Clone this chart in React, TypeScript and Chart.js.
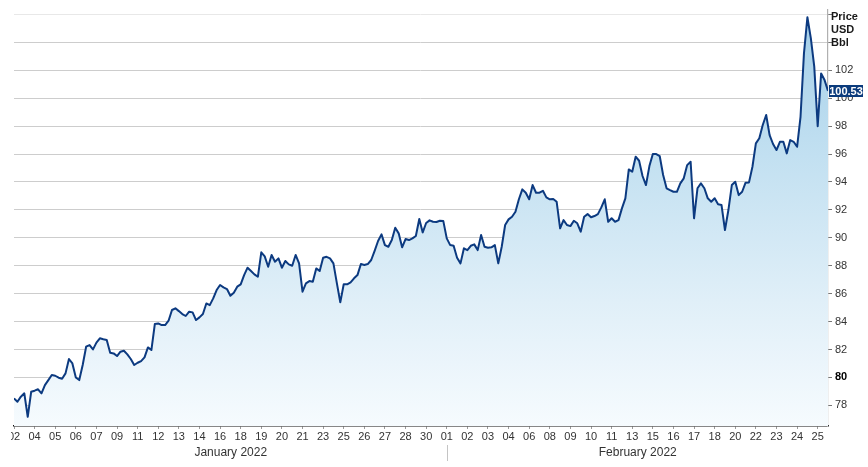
import React, { useEffect, useRef } from "react";
import { Chart, registerables } from "chart.js";

Chart.register(...registerables);

// Day tick labels (evenly spaced along the trading-time axis)
const dayLabels = [
  "02", "04", "05", "06", "07", "09", "11", "12", "13", "14", "16", "18", "19", "20", "21",
  "23", "25", "26", "27", "28", "30",
  "01", "02", "03", "04", "06", "08", "09", "10", "11", "13", "15", "16", "17", "18", "20",
  "22", "23", "24", "25",
];
const months = ["January 2022", "February 2022"];
const febStartLabel = 21;
const pointsPerLabel = 6;

const yTickValues = [78, 80, 82, 84, 86, 88, 90, 92, 94, 96, 98, 100, 102, 104, 106];
const yHiddenTicks = [104, 106];
const yBoldTick = 80;
const yMin = 76.52;
const yMax = 106.32;

const unitLines = ["Price", "USD", "Bbl"];
const lastLabel = "100.53";

// Brent price (one value per ~1/6 of a label step)
const prices = [
  78.5, 78.26, 78.62, 78.86, 77.18, 78.97, 79.05, 79.15, 78.86, 79.45,
  79.81, 80.17, 80.12, 79.98, 79.91, 80.29, 81.32, 81.0, 80.0, 79.81,
  80.89, 82.2, 82.32, 82.01, 82.49, 82.8, 82.73, 82.68, 81.77, 81.72,
  81.53, 81.84, 81.91, 81.65, 81.32, 80.89, 81.05, 81.17, 81.44, 82.15,
  81.96, 83.82, 83.87, 83.75, 83.75, 84.06, 84.83, 84.95, 84.75, 84.54,
  84.4, 84.71, 84.66, 84.11, 84.3, 84.54, 85.3, 85.18, 85.66, 86.26,
  86.62, 86.45, 86.33, 85.85, 86.07, 86.5, 86.67, 87.33, 87.86, 87.62,
  87.38, 87.21, 88.96, 88.67, 87.93, 88.77, 88.29, 88.53, 87.86, 88.34,
  88.1, 88.0, 88.77, 88.17, 86.14, 86.74, 86.9, 86.85, 87.81, 87.62,
  88.57, 88.64, 88.53, 88.17, 86.76, 85.38, 86.67, 86.67, 86.81, 87.1,
  87.33, 88.12, 88.05, 88.12, 88.41, 89.07, 89.77, 90.25, 89.48, 89.36,
  89.84, 90.72, 90.32, 89.32, 89.91, 89.84, 89.96, 90.13, 91.35, 90.39,
  91.06, 91.25, 91.15, 91.13, 91.22, 91.2, 89.96, 89.48, 89.43, 88.57,
  88.17, 89.25, 89.12, 89.43, 89.53, 89.12, 90.2, 89.36, 89.29, 89.32,
  89.48, 88.17, 89.36, 90.92, 91.32, 91.51, 91.87, 92.76, 93.47, 93.23,
  92.76, 93.78, 93.23, 93.23, 93.37, 92.9, 92.76, 92.78, 92.58, 90.68,
  91.27, 90.92, 90.84, 91.22, 91.04, 90.44, 91.51, 91.7, 91.47, 91.56,
  91.7, 92.18, 92.76, 91.15, 91.4, 91.15, 91.27, 92.11, 92.83, 94.9,
  94.73, 95.81, 95.52, 94.43, 93.78, 95.14, 96.0, 96.0, 95.86, 94.5,
  93.55, 93.42, 93.3, 93.3, 93.9, 94.26, 95.21, 95.45, 91.4, 93.55,
  93.9, 93.55, 92.83, 92.59, 92.83, 92.4, 92.35, 90.56, 91.99, 93.78,
  94.02, 93.06, 93.3, 93.95, 93.97, 95.09, 96.77, 97.13, 98.08, 98.8,
  97.36, 96.72, 96.29, 96.88, 96.88, 96.05, 97.0, 96.88, 96.52, 98.67,
  103.21, 105.8, 104.3, 102.26, 98.0, 101.78, 101.3, 100.53,
];

const FONT = "'Liberation Sans', Arial, sans-serif";

export default function App() {
  const canvasRef = useRef<HTMLCanvasElement>(null);

  useEffect(() => {
    const canvas = canvasRef.current;
    if (!canvas) return;

    const overlay = {
      id: "overlay",
      afterDraw(chart: any) {
        const { ctx, chartArea, scales } = chart;
        const xs = scales.x;
        const ys = scales.y;
        ctx.save();
        // clip the first day label near the plot's left edge
        ctx.fillStyle = "#ffffff";
        ctx.fillRect(0, chartArea.bottom + 2, chartArea.left - 3, 16);

        // month separator and month names
        const sepX = Math.round(xs.getPixelForValue(febStartLabel * pointsPerLabel)) + 0.5;
        ctx.strokeStyle = "#c4c4c4";
        ctx.lineWidth = 1;
        ctx.beginPath();
        ctx.moveTo(sepX, chartArea.bottom + 19);
        ctx.lineTo(sepX, chartArea.bottom + 35);
        ctx.stroke();

        ctx.font = `12px ${FONT}`;
        ctx.fillStyle = "#333333";
        ctx.textAlign = "center";
        ctx.textBaseline = "middle";
        ctx.fillText(months[0], (chartArea.left + sepX) / 2, chartArea.bottom + 26.5);
        ctx.fillText(months[1], (sepX + chartArea.right) / 2, chartArea.bottom + 26.5);

        // unit caption
        ctx.font = `bold 11px ${FONT}`;
        ctx.fillStyle = "#1a1a1a";
        ctx.textAlign = "left";
        unitLines.forEach((t, k) => {
          ctx.fillText(t, chartArea.right + 3, chartArea.top + 7 + 13 * k);
        });

        // last value badge
        const lastVal = prices[prices.length - 1];
        const ly = ys.getPixelForValue(lastVal);
        ctx.fillStyle = "#0b3b7c";
        ctx.fillRect(chartArea.right + 1, Math.round(ly) - 6, 34, 12);
        ctx.fillStyle = "#ffffff";
        ctx.font = `bold 11px ${FONT}`;
        ctx.textAlign = "center";
        ctx.fillText(lastLabel, chartArea.right + 18, Math.round(ly) + 0.5);
        ctx.restore();
      },
    };

    const chart = new Chart(canvas, {
      type: "line",
      data: {
        datasets: [
          {
            data: prices.map((v, i) => ({ x: i, y: v })),
            borderColor: "#0c3a80",
            borderWidth: 2,
            borderJoinStyle: "round",
            pointRadius: 0,
            tension: 0,
            fill: "start",
            backgroundColor: (c: any) => {
              const area = c.chart.chartArea;
              if (!area) return "rgba(180,215,235,0.6)";
              const g = c.chart.ctx.createLinearGradient(0, area.top, 0, area.bottom);
              g.addColorStop(0, "#a3cee8");
              g.addColorStop(0.35, "#c2e0f1");
              g.addColorStop(0.7, "#e0eff8");
              g.addColorStop(1, "#f6fbfe");
              return g;
            },
          },
        ],
      },
      options: {
        animation: false,
        responsive: true,
        maintainAspectRatio: false,
        layout: { padding: { left: 14, top: 10, right: 0, bottom: 0 } },
        plugins: {
          legend: { display: false },
          tooltip: { enabled: false },
        },
        scales: {
          x: {
            type: "linear",
            position: "bottom",
            min: 0,
            max: prices.length - 1,
            afterBuildTicks: (scale: any) => {
              scale.ticks = dayLabels.map((_, k) => ({ value: k * pointsPerLabel }));
            },
            afterFit: (scale: any) => {
              scale.height = 41;
            },
            border: { display: true, color: "#111111", width: 1.6 },
            grid: {
              display: true,
              drawOnChartArea: false,
              drawTicks: true,
              tickLength: 3,
              color: "#9a9a9a",
            },
            ticks: {
              autoSkip: false,
              maxRotation: 0,
              minRotation: 0,
              padding: 1,
              color: "#333333",
              font: { family: FONT, size: 11 },
              callback: (v: any) => {
                const k = Math.round(Number(v) / pointsPerLabel);
                return dayLabels[k] ?? "";
              },
            },
          },
          y: {
            type: "linear",
            position: "right",
            min: yMin,
            max: yMax,
            afterBuildTicks: (scale: any) => {
              scale.ticks = yTickValues.map((v) => ({ value: v }));
            },
            afterFit: (scale: any) => {
              scale.width = 40;
            },
            border: { display: true, color: "#b0b0b0", width: 1.2 },
            grid: {
              color: (c: any) => (c.tick && c.tick.value === 106 ? "#e8e8e8" : "#cdcdcd"),
              lineWidth: 1,
              drawTicks: true,
              tickLength: 4,
              tickColor: "#777777",
            },
            ticks: {
              padding: 3,
              color: (c: any) => (c.tick && c.tick.value === yBoldTick ? "#000000" : "#333333"),
              font: (c: any) =>
                c.tick && c.tick.value === yBoldTick
                  ? { family: FONT, size: 11, weight: "bold" }
                  : { family: FONT, size: 11 },
              callback: (v: any) => (yHiddenTicks.includes(Number(v)) ? "" : String(v)),
            },
          },
        },
      },
      plugins: [overlay],
    });

    return () => chart.destroy();
  }, []);

  return (
    <div
      style={{
        position: "fixed",
        left: 0,
        top: 0,
        width: 868,
        height: 467,
        background: "#ffffff",
      }}
    >
      <canvas ref={canvasRef} />
    </div>
  );
}
